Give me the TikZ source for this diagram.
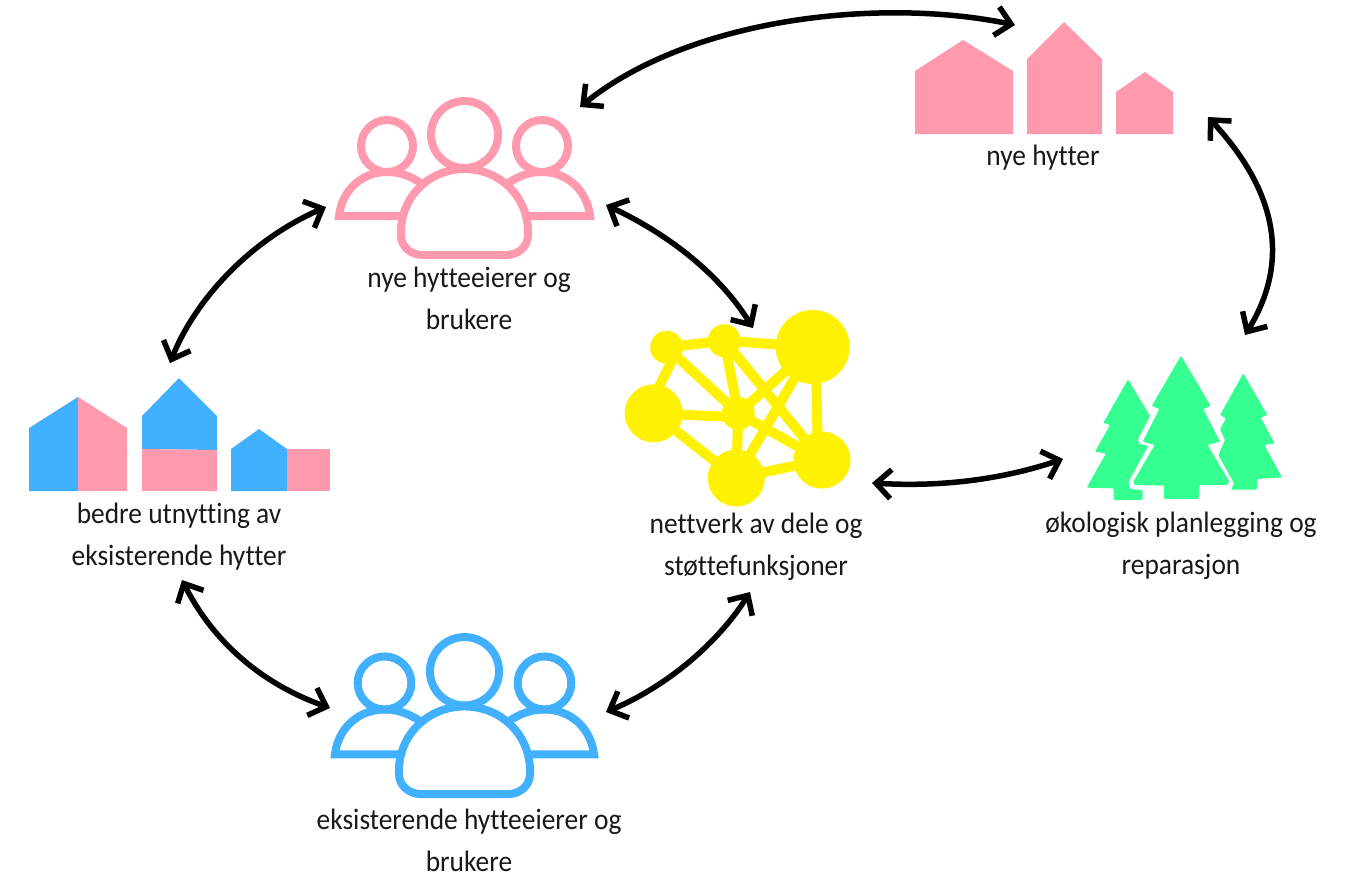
\documentclass[tikz,border=0pt]{standalone}
\usepackage{fontspec}
\setmainfont[FakeStretch=0.93,Ligatures=NoCommon]{Carlito}
\usetikzlibrary{arrows.meta}
\definecolor{pinkc}{HTML}{FF99AE}
\definecolor{bluec}{HTML}{40B0FF}
\definecolor{greenc}{HTML}{36FF91}
\definecolor{yellowc}{HTML}{FFF200}
\tikzset{
  lbl/.style={align=center,inner sep=0pt,text=black!90,font=\fontsize{29.5}{42}\selectfont},
  link/.style={draw=black,line width=5.5pt,{Straight Barb[length=15pt,width=29pt,line width=5.5pt]}-{Straight Barb[length=15pt,width=29pt,line width=5.5pt]}},
  netedge/.style={draw=yellowc,line width=10pt},
  netnode/.style={circle,fill=yellowc,inner sep=0pt},
  ppl/.style={line width=8pt,line join=round,fill=none},
}
\newcommand{\peoplegroup}[1]{%
  \draw[ppl,draw=#1] (464.5,134.5) circle (33.5);
  \draw[ppl,draw=#1] (387,146) circle (26);
  \draw[ppl,draw=#1] (542,146) circle (26);
  \draw[ppl,draw=#1] (401,232) .. controls (401,197) and (429,169) .. (464.5,169) .. controls (500,169) and (528,197) .. (528,232) -- (528,235)
     .. controls (528,247) and (518,255) .. (506,255) -- (423,255)
     .. controls (411,255) and (401,247) .. (401,235) -- cycle;
  \draw[ppl,draw=#1,line join=miter] (402,216) -- (339,216) .. controls (342,190) and (362,172) .. (387,172) .. controls (400,172) and (410,176) .. (421,183);
  \draw[ppl,draw=#1,line join=miter] (527,216) -- (590,216) .. controls (587,190) and (567,172) .. (542,172) .. controls (529,172) and (519,176) .. (508,183);
}
\begin{document}
\begin{tikzpicture}[x=1pt,y=-1pt]
\useasboundingbox (0,0) rectangle (1357,876);
% new houses
\fill[pinkc] (915,134) -- (915,71) -- (963,40) -- (1013,71) -- (1013,134) -- cycle;
\fill[pinkc] (1027,134) -- (1027,59) -- (1064,22) -- (1102,59) -- (1102,134) -- cycle;
\fill[pinkc] (1116,134) -- (1116,92) -- (1145,72) -- (1173,92) -- (1173,134) -- cycle;
% mixed houses
\fill[bluec] (29,491) -- (29,428) -- (78,397) -- (78,491) -- cycle;
\fill[pinkc] (78,491) -- (78,397) -- (127,428) -- (127,491) -- cycle;
\fill[bluec] (142,449) -- (142,416) -- (179,378) -- (217,416) -- (217,450) -- cycle;
\fill[pinkc] (142,491) -- (142,449) -- (217,450) -- (217,491) -- cycle;
\fill[bluec] (231,491) -- (231,449) -- (259,429) -- (287,449) -- (287,491) -- cycle;
\fill[pinkc] (287,491) -- (287,449) -- (330,449) -- (330,491) -- cycle;
% people
\peoplegroup{pinkc}
\begin{scope}[shift={(464.5,633)},x=1.032pt,y=-1.02pt,shift={(-464.5,-97)}]
\peoplegroup{bluec}
\end{scope}
% trees
\begin{scope}[shift={(1070,340)},x=0.3333pt,y=-0.3333pt]
\fill[greenc,rounded corners=1pt] (333,47) -- (422,198) -- (400,207) -- (450,305) -- (413,315) -- (478,425) -- (472,435) -- (388,435) -- (386,477) -- (282,477) -- (282,437) -- (194,435) -- (190,425) -- (254,315) -- (218,305) -- (268,207) -- (245,198) -- cycle;
\fill[greenc,rounded corners=1pt] (174,118) -- (240,228) -- (205,295) -- (205,310) -- (235,318) -- (175,425) -- (180,447) -- (218,450) -- (218,480) -- (131,480) -- (131,445) -- (50,443) -- (108,340) -- (75,335) -- (120,255) -- (100,248) -- cycle;
\fill[greenc,rounded corners=1pt] (520,100) -- (592,225) -- (572,233) -- (614,310) -- (583,315) -- (636,412) -- (562,417) -- (560,449) -- (483,449) -- (492,430) -- (445,345) -- (465,300) -- (450,268) -- (468,235) -- (450,225) -- cycle;
\end{scope}
% network
\node[netnode,minimum size=33pt] (na) at (666.7,347.3) {};
\node[netnode,minimum size=33pt] (nb) at (724.3,340.7) {};
\node[netnode,minimum size=74pt] (nc) at (812.7,347) {};
\node[netnode,minimum size=58pt] (nd) at (653.7,413.3) {};
\node[netnode,minimum size=33pt] (ne) at (738.3,413.3) {};
\node[netnode,minimum size=57pt] (nf) at (736.3,478) {};
\node[netnode,minimum size=57pt] (ng) at (822,460) {};
\foreach \a/\b in {na/nb,nb/nc,na/ne,ne/ng,nd/nf,nf/ng,nc/ne,nc/nf,nb/ne,nb/ng,ne/nf}
  \draw[netedge] (\a.center) -- (\b.center);
\draw[netedge] ([xshift=12pt]na.center) -- ([xshift=-8pt]nd.center);
\draw[netedge] (nd.center) -- ([yshift=-4pt]ne.center);
\draw[netedge] ([xshift=3pt]nc.center) -- ([xshift=-4pt]ng.center);
% labels
\node[lbl] (lnew) at (469,298) {nye hytteeierer og\\brukere};
\node[lbl] (lhut) at (1043,158) {nye hytter};
\node[lbl] (lmix) at (179,537) {bedre utnytting av\\eksisterende hytter};
\node[lbl] (lnet) at (756,547) {nettverk av dele og\\støttefunksjoner};
\node[lbl] (leco) at (1181,546) {økologisk planlegging og\\reparasjon};
\node[lbl] (lold) at (469,840) {eksisterende hytteeierer og\\brukere};
% connector ends
\coordinate (a1) at (580,107); \coordinate (a2) at (1015,25);
\coordinate (b1) at (1208,117); \coordinate (b2) at (1245,335);
\coordinate (c1) at (872,483); \coordinate (c2) at (1063,459);
\coordinate (d1) at (606,205); \coordinate (d2) at (753,328);
\coordinate (e1) at (326,207); \coordinate (e2) at (170,363);
\coordinate (f1) at (182,580); \coordinate (f2) at (330,708);
\coordinate (g1) at (606,712); \coordinate (g2) at (750,592);
\draw[link] (a1) .. controls (690,18) and (880,-3) .. (a2);
\draw[link] (b1) .. controls (1285,200) and (1285,270) .. (b2);
\draw[link] (c1) .. controls (940,487) and (1000,480) .. (c2);
\draw[link] (d1) .. controls (670,235) and (720,275) .. (d2);
\draw[link] (e1) .. controls (250,240) and (195,300) .. (e2);
\draw[link] (f1) .. controls (215,645) and (265,685) .. (f2);
\draw[link] (g1) .. controls (670,685) and (720,640) .. (g2);
\end{tikzpicture}
\end{document}
